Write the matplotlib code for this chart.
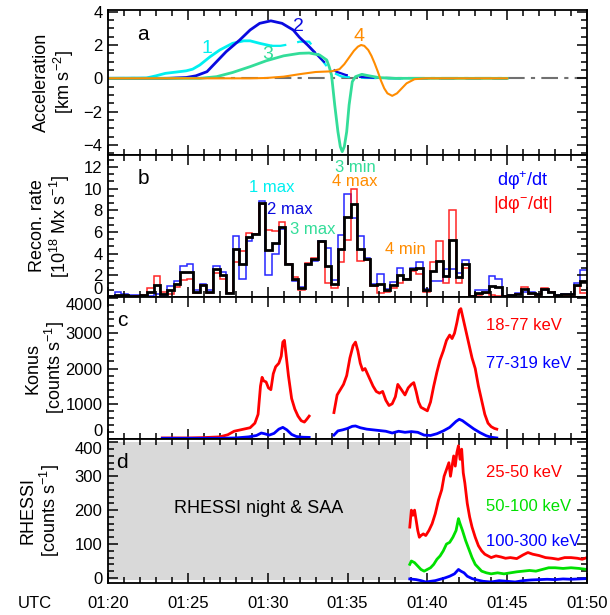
import numpy as np
import matplotlib.pyplot as plt
from matplotlib.ticker import MultipleLocator, AutoMinorLocator

plt.rcParams['font.family'] = ['Liberation Sans', 'DejaVu Sans']
plt.rcParams['mathtext.fontset'] = 'custom'
plt.rcParams['mathtext.rm'] = 'Liberation Sans'
plt.rcParams['mathtext.it'] = 'Liberation Sans:italic'
plt.rcParams['axes.linewidth'] = 1.3

# time axis: minutes after 01:20 UTC
time_ticks = [0, 5, 10, 15, 20, 25, 30]
time_labels = ["01:20", "01:25", "01:30", "01:35", "01:40", "01:45", "01:50"]

# ---- panel a: acceleration of the four features (km s^-2)
acc1_t = [0, 2.4, 3.0, 3.6, 4.3, 4.9, 5.3, 5.75, 6.4, 7.0, 7.8, 8.5, 8.9, 9.5, 10.2]
acc1_v = [0, 0.02, 0.15, 0.3, 0.38, 0.45, 0.55, 0.8, 1.3, 1.7, 2.1, 2.25, 2.25, 2.1, 1.95]
acc1d_t = [10.2, 10.8, 11.4, 12.0, 12.6, 13.0, 13.4, 13.8, 14.2, 14.6, 15.2, 16, 17, 18, 20, 22, 25]
acc1d_v = [1.95, 1.95, 2.05, 2.2, 2.2, 1.7, 1.1, 0.6, 0.3, 0.12, 0.06, 0.03, 0.01, 0, 0, 0, 0]

acc2_t = [0, 3.7, 4.9, 5.5, 6.2, 6.8, 7.4, 8.25, 8.9, 9.5, 10.2, 10.9, 11.6, 12.0, 12.5, 12.9]
acc2_v = [0, 0, 0.05, 0.15, 0.4, 1.0, 1.6, 2.3, 2.9, 3.3, 3.45, 3.3, 2.9, 2.45, 2.0, 1.6]
acc2d_t = [12.9, 13.3, 13.8, 14.3, 14.9, 15.5, 16.5, 17.5, 19, 22, 25]
acc2d_v = [1.6, 1.2, 0.75, 0.4, 0.2, 0.1, 0.04, 0.02, 0, 0, 0]

acc3_t = [0, 5.75, 6.8, 7.8, 8.9, 9.9, 11.0, 12.0, 12.6, 13.25, 13.7, 13.85, 14.0, 14.2, 14.4,
          14.55, 14.67, 14.8, 14.95, 15.1, 15.3, 15.5, 15.9, 16.3, 17.0, 18, 20, 25]
acc3_v = [0, 0, 0.1, 0.35, 0.7, 1.05, 1.35, 1.5, 1.52, 1.4, 1.1, 0.7, 0.2, -1.6, -3.2,
          -4.1, -4.4, -4.1, -3.2, -1.6, -0.2, 0.1, 0.24, 0.16, 0.04, 0.0, 0, 0]

acc4_t = [0, 8.9, 9.9, 11.0, 12.0, 13.0, 14.0, 14.5, 14.8, 15.1, 15.4, 15.65, 15.85, 16.05,
          16.3, 16.5, 16.7, 16.9, 17.1, 17.3, 17.5, 17.8, 18.1, 18.4, 18.7, 19.2, 19.9, 21, 25]
acc4_v = [0, 0, 0.02, 0.1, 0.25, 0.38, 0.42, 0.55, 0.85, 1.25, 1.65, 1.9, 2.0, 1.95,
          1.7, 1.35, 0.9, 0.4, -0.15, -0.6, -0.9, -1.05, -0.9, -0.6, -0.3, -0.05, 0, 0, 0]

# ---- panel b: reconnection rate (1e18 Mx/s), 73 bins over 30 min
rec_pos = [0.1, 0.45, 0.25, 0.2, 0.15, 0.1, 0.1, 0.3, 0.1, 1.0, 1.5, 2.9, 3.0, 0.6, 1.2, 0.6,
           2.9, 2.3, 0.4, 5.6, 1.7, 5.2, 5.8, 8.9, 2.0, 4.0, 6.3, 3.0, 1.5, 0.9, 3.0, 3.3,
           5.2, 4.5, 1.6, 5.7, 9.5, 7.3, 5.6, 3.6, 1.2, 2.1, 0.7, 1.4, 2.7, 1.7, 2.7, 3.2,
           0.7, 1.5, 1.5, 2.6, 2.6, 2.2, 3.4, 0.1, 0.6, 0.6, 1.9, 1.7, 0.1, 0.2, 0.35, 0.5,
           0.5, 0.3, 0.6, 0.5, 0.2, 0.3, 0.3, 1.3, 2.5]
rec_neg = [0.0, 0.0, 0.0, 0.0, 0.05, 0.2, 0.8, 1.9, 0.5, 0.3, 0.9, 1.6, 1.7, 0.4, 1.1, 0.4,
           2.2, 1.7, 0.4, 3.2, 4.2, 5.9, 5.8, 8.6, 6.2, 6.1, 6.9, 3.0, 1.8, 0.6, 3.1, 3.6,
           5.1, 1.3, 0.8, 3.2, 5.3, 10.0, 3.3, 3.4, 1.0, 0.4, 0.5, 0.8, 1.3, 1.7, 2.4, 2.1,
           0.5, 3.2, 5.2, 1.3, 8.0, 1.3, 2.7, 0.1, 0.2, 0.35, 0.2, 0.1, 0.1, 0.1, 0.25, 0.9,
           0.3, 0.2, 0.8, 0.5, 0.1, 0.2, 0.2, 1.0, 0.4]
rec_mean = [0.05, 0.2, 0.15, 0.1, 0.1, 0.15, 0.45, 1.1, 0.3, 0.65, 1.2, 2.3, 2.35, 0.5, 1.15, 0.5,
            2.6, 2.0, 0.4, 4.4, 3.0, 5.5, 5.8, 8.7, 4.3, 5.0, 6.5, 3.0, 1.65, 0.8, 3.05, 3.5,
            5.15, 2.9, 1.2, 4.4, 7.4, 8.6, 4.4, 3.5, 1.1, 1.2, 0.6, 1.1, 2.0, 1.7, 2.6, 2.7,
            0.6, 2.4, 3.3, 1.9, 5.3, 1.8, 3.0, 0.1, 0.4, 0.5, 1.0, 0.9, 0.1, 0.15, 0.3, 0.7,
            0.4, 0.25, 0.7, 0.5, 0.15, 0.25, 0.25, 1.1, 1.5]

# ---- panel c: Konus-Wind count rates
konus_lo_t = [3.4, 4, 5, 6, 7, 7.5, 7.9, 8.3, 8.9, 9.2, 9.4, 9.55, 9.65, 9.75, 9.9, 10.05, 10.2,
              10.35, 10.5, 10.7, 10.85, 10.95, 11.05, 11.15, 11.3, 11.5, 11.7, 11.9, 12.1,
              12.3, 12.45, 12.6, np.nan,
              14.15, 14.35, 14.55, 14.75, 14.95, 15.15, 15.35, 15.5, 15.65, 15.8, 15.95, 16.1,
              16.25, 16.4, 16.6, 16.8, 17.0, 17.2, 17.4, 17.6, 17.8, 18.0, 18.15, 18.3, 18.45,
              18.6, 18.8, 19.0, 19.15, 19.3, 19.45, 19.6, 19.8, 20.0, 20.2, 20.4, 20.6, 20.8,
              21.0, 21.2, 21.4, 21.55, 21.7, 21.85, 22.0, 22.1, 22.25, 22.4, 22.6, 22.8, 23.0,
              23.2, 23.4, 23.6, 23.8, 24.0, 24.2, 24.35]
konus_lo = [30, 30, 30, 40, 60, 120, 220, 260, 320, 450, 700, 1500, 1750, 1650, 1620, 1450, 1400,
            1850, 2050, 2150, 2350, 2750, 2800, 2400, 1800, 1150, 850, 650, 520,
            480, 560, 650, np.nan,
            750, 1250, 1400, 1550, 1800, 2300, 2650, 2750, 2500, 2150, 1950, 2000,
            1850, 1700, 1500, 1350, 1300, 1350, 1100, 950, 1000, 1200, 1550, 1450, 1350,
            1250, 1450, 1550, 1600, 1350, 1050, 900, 850, 800, 1050, 1500, 1900, 2250,
            2500, 2800, 2950, 2850, 3000, 3300, 3650, 3700, 3400, 3100, 2700, 2300, 2000,
            1500, 1100, 700, 450, 350, 300, 280]
konus_hi_t = [3.4, 5, 6, 7, 8, 8.8, 9.3, 9.6, 9.8, 10.1, 10.4, 10.7, 10.95, 11.2, 11.5, 11.8,
              12.2, 12.6, np.nan,
              14.15, 14.4, 14.7, 15.0, 15.3, 15.5, 15.8, 16.2, 16.6, 17.0, 17.4, 17.8, 18.2,
              18.6, 19.0, 19.4, 19.8, 20.2, 20.6, 21.0, 21.4, 21.8, 22.0, 22.2, 22.5, 22.9,
              23.3, 23.7, 24.0, 24.35]
konus_hi = [20, 20, 20, 20, 30, 60, 100, 170, 150, 110, 160, 280, 330, 260, 130, 70,
            50, 45, np.nan,
            110, 230, 260, 300, 360, 370, 320, 280, 260, 240, 220, 170, 220,
            190, 210, 190, 110, 100, 150, 230, 330, 500, 560, 520, 420, 290,
            180, 90, 50, 30]

# ---- panel d: RHESSI count rates
rhessi_night = [0, 18.9]
rh1_t = [18.9, 19.0, 19.1, 19.2, 19.3, 19.4, 19.5, 19.6, 19.75, 19.9, 20.1, 20.3, 20.5, 20.7,
         20.9, 21.05, 21.2, 21.35, 21.45, 21.55, 21.65, 21.75, 21.85, 21.95, 22.05, 22.15,
         22.25, 22.35, 22.5, 22.65, 22.8, 23.0, 23.2, 23.4, 23.6, 23.8, 24.0, 24.3, 24.6,
         24.9, 25.2, 25.6, 26.0, 26.3, 26.6, 27.0, 27.4, 27.8, 28.2, 28.6, 29.0, 29.4, 29.7, 30.0]
rh1 = [150, 200, 185, 200, 170, 140, 120, 125, 130, 125, 140, 160, 190, 230,
       260, 300, 320, 340, 300, 330, 360, 330, 370, 390, 350, 380,
       310, 280, 220, 180, 150, 120, 95, 80, 70, 65, 60, 65, 62,
       58, 60, 57, 68, 75, 70, 66, 60, 58, 55, 60, 60, 58, 55, 60]
rh2_t = [18.9, 19.0, 19.2, 19.4, 19.6, 19.8, 20.0, 20.2, 20.4, 20.6, 20.8, 21.0, 21.2, 21.4,
         21.6, 21.8, 21.95, 22.05, 22.2, 22.4, 22.6, 22.8, 23.0, 23.2, 23.4, 23.7, 24.0, 24.4,
         24.8, 25.2, 25.6, 26.0, 26.4, 26.8, 27.2, 27.6, 28.0, 28.5, 29.0, 29.5, 30.0]
rh2 = [40, 50, 45, 35, 25, 20, 25, 30, 40, 55, 65, 80, 100, 105,
       120, 140, 175, 160, 140, 110, 85, 60, 40, 30, 20, 15, 12, 15,
       12, 15, 18, 20, 22, 20, 25, 30, 30, 28, 30, 28, 25]
rh3_t = [18.9, 19.3, 19.6, 19.9, 20.2, 20.5, 20.8, 21.1, 21.4, 21.7, 21.95, 22.1, 22.3, 22.5,
         22.8, 23.1, 23.5, 24.0, 24.5, 25.0, 25.5, 26.0, 26.5, 27.0, 27.5, 28.0, 28.5, 29.0,
         29.5, 30.0]
rh3 = [-3, -5, -8, -12, -10, -8, -4, 0, 5, 12, 25, 20, 15, 5,
       -2, -6, -10, -12, -8, -10, -12, -8, -6, -5, -4, -5, -3, -4, -3, -2]

CYAN = '#00f0f0'
BLUE = '#0a0ae0'
AQUA = '#33dd99'
ORANGE = '#ff8c00'

fig = plt.figure(figsize=(6.10, 6.15), dpi=100)
L, W = 108 / 610, 479 / 610
tops = [10, 155, 297, 439, 583]
axes = []
for i in range(4):
    b = 1 - tops[i + 1] / 615
    h = (tops[i + 1] - tops[i]) / 615
    ax = fig.add_axes([L, b, W, h], sharex=axes[0] if axes else None)
    axes.append(ax)
axa, axb, axc, axd = axes


def ftext(x, y, s, **kw):
    # place text at a pixel position measured from the top-left corner
    fig.text(x / 610, 1 - y / 615, s, ha='center', va='center', **kw)


for ax in axes:
    ax.set_xlim(0, 30)
    ax.set_xticks(time_ticks)
    ax.xaxis.set_minor_locator(MultipleLocator(1))
    ax.tick_params(which='both', direction='in', top=True, right=True, labelsize=12,
                   width=1.1, pad=4)
    ax.tick_params(which='major', length=7)
    ax.tick_params(which='minor', length=4)
    if ax is not axd:
        ax.tick_params(labelbottom=False)
axd.set_xticklabels(time_labels)
axd.tick_params(axis='x', pad=9)
ftext(35, 603, 'UTC', fontsize=12)

# panel a
axa.plot([0, 30], [0, 0], color='#707070', lw=1.5, ls=(0, (8, 3, 2, 3)), zorder=1)
axa.plot(acc1_t, acc1_v, color=CYAN, lw=2)
axa.plot(acc1d_t, acc1d_v, color=CYAN, lw=1.6, ls=(0, (7, 5)))
axa.plot(acc2_t, acc2_v, color=BLUE, lw=2)
axa.plot(acc2d_t, acc2d_v, color=BLUE, lw=1.6, ls=(0, (7, 5)))
axa.plot(acc3_t, acc3_v, color=AQUA, lw=2)
axa.plot(acc4_t, acc4_v, color=ORANGE, lw=1.5)
axa.set_ylim(-4.6, 4.1)
axa.yaxis.set_major_locator(MultipleLocator(2))
axa.yaxis.set_minor_locator(MultipleLocator(0.5))
axa.text(6.2, 1.8, '1', color=CYAN, fontsize=14, ha='center', va='center')
axa.text(11.9, 3.1, '2', color=BLUE, fontsize=14, ha='center', va='center')
axa.text(10.0, 1.4, '3', color=AQUA, fontsize=14, ha='center', va='center')
axa.text(15.7, 2.5, '4', color=ORANGE, fontsize=14, ha='center', va='center')
ftext(143, 34, 'a', fontsize=15)
axa.set_ylabel('Acceleration\n[km s$^{-2}$]', fontsize=13, linespacing=1.1)
axa.yaxis.set_label_coords(-0.067, 0.5)

# panel b
edges = np.arange(len(rec_pos) + 1) * 30 / len(rec_pos)
axb.stairs(rec_pos, edges, baseline=None, color='#0000ff', lw=1.1, alpha=0.85)
axb.stairs(rec_neg, edges, baseline=None, color='#ff0000', lw=1.1, alpha=0.85)
axb.stairs(rec_mean, edges, baseline=None, color='black', lw=2.0)
axb.set_ylim(0, 13.1)
axb.yaxis.set_major_locator(MultipleLocator(2))
axb.yaxis.set_minor_locator(AutoMinorLocator(3))
ftext(143, 178, 'b', fontsize=15)
ftext(272, 187, '1 max', color=CYAN, fontsize=12)
ftext(290, 209, '2 max', color=BLUE, fontsize=12)
ftext(313, 230, '3 max', color=AQUA, fontsize=12)
ftext(355, 168, '3 min', color=AQUA, fontsize=12)
ftext(355, 181, '4 max', color=ORANGE, fontsize=12)
ftext(405, 250, '4 min', color=ORANGE, fontsize=12)
ftext(523, 181, 'd\u03c6$^{+}$/dt', color='#0000ff', fontsize=13)
ftext(523, 204, '|d\u03c6$^{-}$/dt|', color='#ff0000', fontsize=13)
axb.set_ylabel('Recon. rate\n[10$^{18}$ Mx s$^{-1}$]', fontsize=13, linespacing=1.1)
axb.yaxis.set_label_coords(-0.075, 0.5)

# panel c
axc.plot(konus_lo_t, konus_lo, color='#ff0000', lw=2)
axc.plot(konus_hi_t, konus_hi, color='#0000ff', lw=2)
axc.set_ylim(0, 4030)
axc.yaxis.set_major_locator(MultipleLocator(1000))
axc.yaxis.set_minor_locator(AutoMinorLocator(5))
ftext(122, 320, 'c', fontsize=15)
axc.text(0.79, 0.80, '18-77 keV', transform=axc.transAxes, color='#ff0000', fontsize=12,
         va='center')
axc.text(0.79, 0.53, '77-319 keV', transform=axc.transAxes, color='#0000ff', fontsize=12,
         va='center')
axc.set_ylabel('Konus\n[counts s$^{-1}$]', fontsize=13, linespacing=1.1)
axc.yaxis.set_label_coords(-0.085, 0.5)

# panel d
axd.fill_between(rhessi_night, -5, 400, color='#d9d9d9', lw=0)
axd.plot(rh1_t, rh1, color='#ff0000', lw=2)
axd.plot(rh2_t, rh2, color='#00e000', lw=2)
axd.plot(rh3_t, rh3, color='#0000ff', lw=2)
axd.set_ylim(-15, 410)
axd.yaxis.set_major_locator(MultipleLocator(100))
axd.yaxis.set_minor_locator(AutoMinorLocator(5))
ftext(122, 462, 'd', fontsize=15)
axd.text(sum(rhessi_night) / 2, 205, 'RHESSI night & SAA', fontsize=13, ha='center',
         va='center')
axd.text(0.79, 0.77, '25-50 keV', transform=axd.transAxes, color='#ff0000', fontsize=12,
         va='center')
axd.text(0.79, 0.53, '50-100 keV', transform=axd.transAxes, color='#00e000', fontsize=12,
         va='center')
axd.text(0.79, 0.285, '100-300 keV', transform=axd.transAxes, color='#0000ff', fontsize=12,
         va='center')
axd.set_ylabel('RHESSI\n[counts s$^{-1}$]', fontsize=13, linespacing=1.1)
axd.yaxis.set_label_coords(-0.095, 0.5)

# nudge the tick labels that sit on the shared panel borders, as in the original
fig.canvas.draw()
for ax, lo, hi in [(axb, 0, None), (axc, 0, 4000), (axd, None, 400)]:
    for tick, loc in zip(ax.yaxis.get_major_ticks(), ax.yaxis.get_majorticklocs()):
        if lo is not None and abs(loc - lo) < 1e-6:
            tick.label1.set_verticalalignment('bottom')
        if hi is not None and abs(loc - hi) < 1e-6:
            tick.label1.set_verticalalignment('top')

fig.savefig('out.png', dpi=100)
